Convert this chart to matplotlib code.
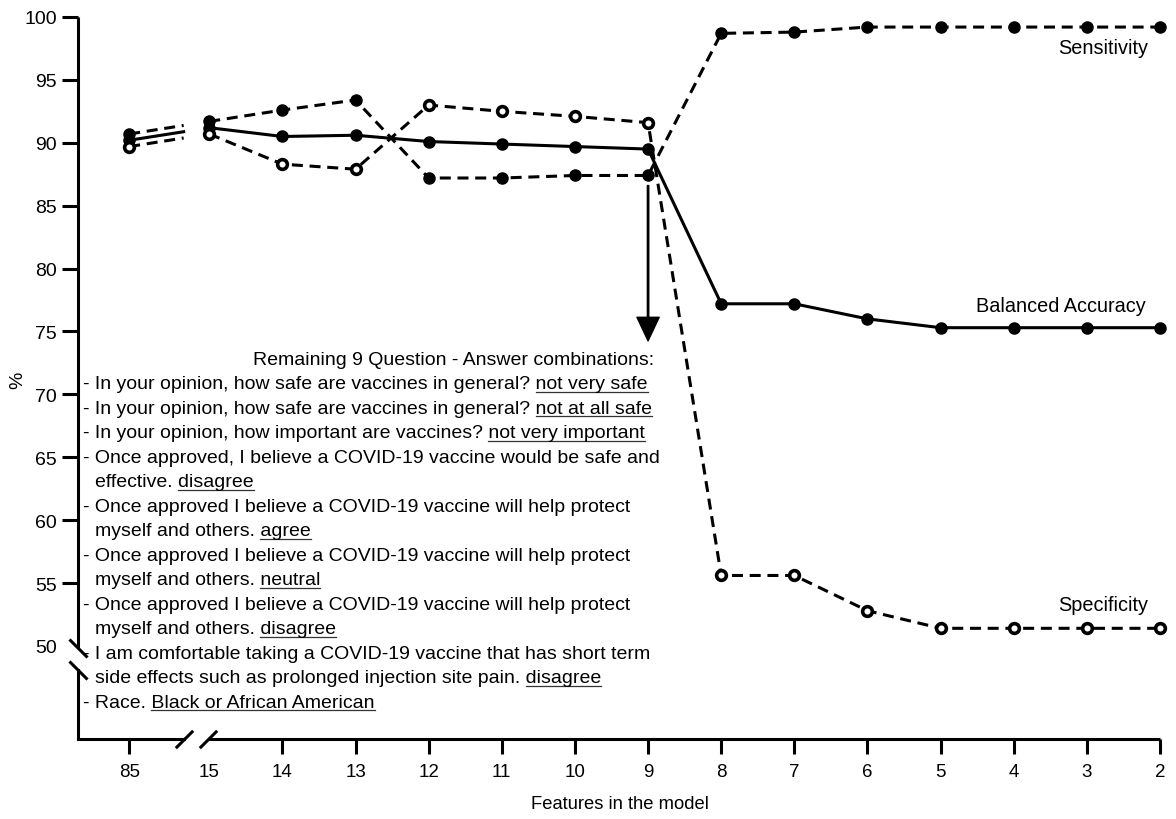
import matplotlib
matplotlib.use("Agg")
import matplotlib.pyplot as plt
from matplotlib.lines import Line2D
import numpy as np

plt.rcParams['font.family'] = ['Liberation Sans', 'DejaVu Sans']

# data
features = ['85', '15', '14', '13', '12', '11', '10', '9', '8', '7', '6', '5', '4', '3', '2']
sensitivity = [90.7, 91.7, 92.6, 93.4, 87.2, 87.2, 87.4, 87.4, 98.7, 98.8, 99.2, 99.2, 99.2, 99.2, 99.2]
specificity = [89.7, 90.7, 88.3, 87.9, 93.0, 92.5, 92.1, 91.6, 55.6, 55.6, 52.8, 51.4, 51.4, 51.4, 51.4]
balanced = [90.2, 91.2, 90.5, 90.6, 90.1, 89.9, 89.7, 89.5, 77.2, 77.2, 76.0, 75.3, 75.3, 75.3, 75.3]
yticks = [50, 55, 60, 65, 70, 75, 80, 85, 90, 95, 100]

# text block: (text, underlined tail, indented)
notes = [
    ("- In your opinion, how safe are vaccines in general? not very safe", "not very safe", False),
    ("- In your opinion, how safe are vaccines in general? not at all safe", "not at all safe", False),
    ("- In your opinion, how important are vaccines? not very important", "not very important", False),
    ("- Once approved, I believe a COVID-19 vaccine would be safe and", None, False),
    ("effective. disagree", "disagree", True),
    ("- Once approved I believe a COVID-19 vaccine will help protect", None, False),
    ("myself and others. agree", "agree", True),
    ("- Once approved I believe a COVID-19 vaccine will help protect", None, False),
    ("myself and others. neutral", "neutral", True),
    ("- Once approved I believe a COVID-19 vaccine will help protect", None, False),
    ("myself and others. disagree", "disagree", True),
    ("- I am comfortable taking a COVID-19 vaccine that has short term", None, False),
    ("side effects such as prolonged injection site pain. disagree", "disagree", True),
    ("- Race. Black or African American", "Black or African American", False),
]

W, H = 1176, 820
fig = plt.figure(figsize=(W / 100, H / 100), dpi=100)
ax = fig.add_axes([78 / W, 1 - 740 / H, (1160 - 78) / W, (740 - 18) / H])

# x positions: 15..2 evenly spaced, 85 sits a bit further left before the break
x = np.array([-1.095] + list(range(len(features) - 1)), dtype=float)
xmin, xmax = -1.795, 13.0
ymin, ymax = 42.6, 100.0
ax.set_xlim(xmin, xmax)
ax.set_ylim(ymin, ymax)

lw = 2.2
dash = (3.6, 2.2)
frac = 0.68  # the 85 segment stops at the axis break


def draw(vals, dashed, open_marker):
    vals = np.array(vals)
    kw = dict(color='k', lw=lw, clip_on=False)
    if dashed:
        kw['dashes'] = dash
    mk = dict(marker='o', color='k', ls='none', clip_on=False, zorder=4)
    if open_marker:
        mk.update(ms=7, mfc='white', mec='k', mew=2.6)
    else:
        mk.update(ms=8, mfc='k', mec='k')
    ax.plot(x[1:], vals[1:], **kw)
    xe = x[0] + frac * (x[1] - x[0])
    ye = vals[0] + frac * (vals[1] - vals[0])
    ax.plot([x[0], xe], [vals[0], ye], **kw)
    ax.plot(x, vals, **mk)


draw(sensitivity, True, False)
draw(balanced, False, False)
draw(specificity, True, True)

# axes with breaks
for s in ax.spines.values():
    s.set_visible(False)
ytr = ax.get_yaxis_transform()
xtr = ax.get_xaxis_transform()
ax.plot([0, 0], [ymin, 48.1], color='k', lw=lw, transform=ytr, clip_on=False, solid_capstyle='projecting')
ax.plot([0, 0], [49.8, ymax], color='k', lw=lw, transform=ytr, clip_on=False, solid_capstyle='butt')
ax.plot([xmin, -0.34], [0, 0], color='k', lw=lw, transform=xtr, clip_on=False, solid_capstyle='projecting')
ax.plot([-0.02, xmax], [0, 0], color='k', lw=lw, transform=xtr, clip_on=False, solid_capstyle='butt')
ax.plot([0, 0], [49.8, 48.1], ls='none', marker=[(-1, 1), (1, -1)], ms=13, mew=2.2, color='k',
        transform=ytr, clip_on=False)
ax.plot([-0.34, -0.02], [0, 0], ls='none', marker=[(-1, -1), (1, 1)], ms=12.5, mew=2.2, color='k',
        transform=xtr, clip_on=False)

ax.set_yticks(yticks)
ax.set_yticklabels([str(v) for v in yticks])
ax.set_xticks(x)
ax.set_xticklabels(features)
ax.tick_params(axis='y', direction='out', length=11.5, width=lw, labelsize=14, pad=3.5)
ax.tick_params(axis='x', direction='out', length=11, width=lw, labelsize=13.5, pad=6)
ax.yaxis.get_major_ticks()[0].tick1line.set_visible(False)
ax.xaxis.get_major_ticks()[1].tick1line.set_visible(False)

# series labels
ax.text(12.84, 97.6, 'Sensitivity', ha='right', va='center', fontsize=14.3)
ax.text(12.8, 77.1, 'Balanced Accuracy', ha='right', va='center', fontsize=14.3)
ax.text(12.84, 53.3, 'Specificity', ha='right', va='center', fontsize=14.3)

# arrow down from 9 features
ax.annotate('', xy=(6, 74.25), xytext=(6, 86.6),
            arrowprops=dict(width=1.0, headwidth=16, headlength=17, facecolor='k', edgecolor='k', shrink=0))

fig.text(18 / W, 1 - 380 / H, '%', rotation=90, ha='center', va='center', fontsize=14)
fig.text(620 / W, 1 - 805 / H, 'Features in the model', ha='center', va='center', fontsize=13.2)

# text block
fs = 14.0
fig.text(654 / W, 1 - (358.5 + 6.5) / H, 'Remaining 9 Question - Answer combinations:',
         ha='right', va='baseline', fontsize=fs)
texts = []
for i, (line, ul, indent) in enumerate(notes):
    xp = 95 if indent else 83
    yb = 383 + 24.5 * i + 6.5
    t = fig.text(xp / W, 1 - yb / H, line, ha='left', va='baseline', fontsize=fs)
    texts.append((t, ul, yb))

fig.canvas.draw()
r = fig.canvas.get_renderer()
for t, ul, yb in texts:
    if ul is None:
        continue
    bb = t.get_window_extent(r)
    tmp = fig.text(0, 0, ul, fontsize=fs)
    wu = tmp.get_window_extent(r).width
    tmp.remove()
    yl = 1 - (yb + 3) / H
    fig.add_artist(Line2D([(bb.x1 - wu) / W, bb.x1 / W], [yl, yl], color='#333333', lw=0.9,
                          transform=fig.transFigure))

fig.savefig('out.png', dpi=100)
